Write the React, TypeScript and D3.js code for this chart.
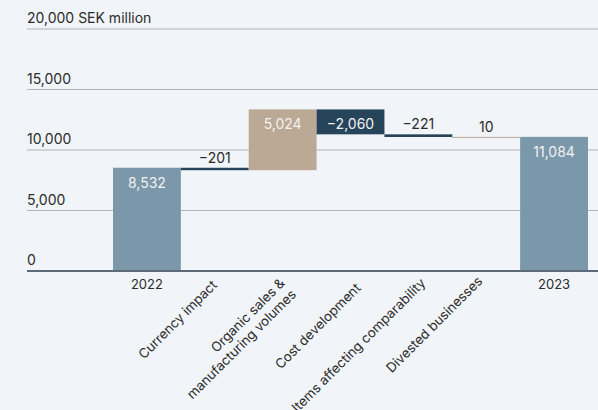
import React from "react";
import * as d3 from "d3";

const categories = ["2022", "Currency impact", "Organic sales &\nmanufacturing volumes", "Cost development", "Items affecting comparability", "Divested businesses", "2023"];
const values = [8532, -201, 5024, -2060, -221, 10, 11084];
const kinds = ["total", "delta", "delta", "delta", "delta", "delta", "total"];
const labels = ["8,532", "−201", "5,024", "−2,060", "−221", "10", "11,084"];
const yTicks = [0, 5000, 10000, 15000, 20000];
const yTickLabels = ["0", "5,000", "10,000", "15,000", "20,000 SEK million"];

const W = 598, H = 410;
const FONT = "Inter, 'Noto Sans', sans-serif";
const labelDx = [0, 3, 3, 11, 8, -3, 0];
const labelDy = [0, 286, 284, 289, 284, 282, 0];

export default function App() {
  const y = d3.scaleLinear().domain([0, 20000]).range([271, 29]);
  const x = d3.scaleBand().domain(categories).range([113, 588]).padding(0);
  let run = 0;
  const bars = values.map((v, i) => {
    let y0: number, y1: number;
    if (kinds[i] === "total") { y0 = 0; y1 = v; run = v; }
    else { y0 = run; y1 = run + v; run = y1; }
    const lo = Math.min(y0, y1), hi = Math.max(y0, y1);
    const color = kinds[i] === "total" ? "#7b97aa" : v >= 0 ? "#bba996" : "#27455a";
    return { i, lo, hi, color, v };
  });
  return (
    <svg width={W} height={H} style={{ position: "absolute", left: 0, top: 0, background: "#f1f4f8" }} fontFamily={FONT}>
      <rect x={0} y={0} width={W} height={H} fill="#f1f4f8" />
      {yTicks.map((t, i) => (
        <g key={t}>
          {t !== 0 && <line x1={27} x2={W} y1={y(t)} y2={y(t)} stroke="#b3b5b7" strokeWidth={1} />}
          <text x={27} y={y(t) - 6} fontSize={14} fill="#2b2b2b">{yTickLabels[i]}</text>
        </g>
      ))}
      {bars.map((b) => {
        const top = y(b.hi), bot = y(b.lo);
        const h = Math.max(bot - top, 1);
        const cx = x(categories[b.i])! + x.bandwidth() / 2;
        const inside = bot - top > 20;
        return (
          <g key={b.i}>
            <rect x={x(categories[b.i])} y={top} width={x.bandwidth()} height={h} fill={b.color} />
            <text x={cx} y={inside ? top + 20 : top - 5} textAnchor="middle" fontSize={14}
              fill={inside ? "#f2f2f2" : "#2b2b2b"}>{labels[b.i]}</text>
          </g>
        );
      })}
      <line x1={27} x2={W} y1={y(0)} y2={y(0)} stroke="#5d6b78" strokeWidth={2} />
      {categories.map((c, i) => {
        const cx = x(c)! + x.bandwidth() / 2;
        if (kinds[i] === "total") {
          return <text key={c} x={cx} y={289} textAnchor="middle" fontSize={13} fill="#2b2b2b">{c}</text>;
        }
        const lines = c.split("\n");
        return (
          <text key={c} transform={`translate(${cx + labelDx[i]},${labelDy[i]}) rotate(-45)`} textAnchor="end" fontSize={13.3} fill="#2b2b2b">
            {lines.map((l, j) => (
              <tspan key={j} x={0} dy={j === 0 ? 0 : 16}>{l}</tspan>
            ))}
          </text>
        );
      })}
    </svg>
  );
}
